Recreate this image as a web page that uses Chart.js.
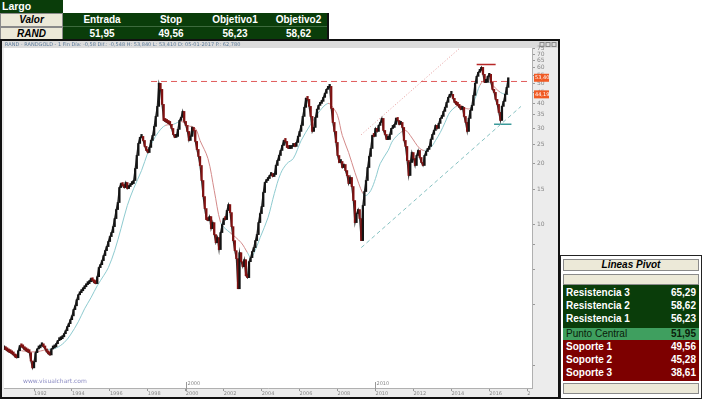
<!DOCTYPE html>
<html>
<head>
<meta charset="utf-8">
<script src="https://cdn.jsdelivr.net/npm/chart.js@4.4.0/dist/chart.umd.min.js"></script>
<style>
  body { margin: 0; width: 702px; height: 399px; position: relative; overflow: hidden; background: #fff;
         font-family: Arial, "Liberation Sans", sans-serif; }
  .c { position: absolute; box-sizing: border-box; font-weight: bold; font-size: 10px; text-align: center; white-space: nowrap; }
  .green { background: #0a3d0a; color: #fff; }
  .beige { background: #ece9d8; color: #000; font-style: italic; border: 1px solid #8a8a8a; }
  #frame { position: absolute; left: 0; top: 39px; width: 560px; height: 360px; box-sizing: border-box; border: 2px solid #111; }
  #chartBox { position: absolute; left: 0; top: 0; width: 556px; height: 356px; }
  #pivot { position: absolute; left: 560px; top: 255px; width: 142px; height: 144px; box-sizing: border-box; border: 1px solid #222; background: #fff; }
  #pivot .row { position: absolute; left: 2px; right: 2px; box-sizing: border-box; font-weight: bold; font-size: 10px; }
  #pivot .row span { position: absolute; left: 3px; }
  #pivot .row b { position: absolute; right: 3px; }
</style>
</head>
<body>

<div class="c green" style="left:0;top:0;width:63px;height:13px;line-height:13px;text-align:left;padding-left:2px;font-size:10.5px">Largo</div>
<div class="c beige" style="left:0;top:13px;width:63px;height:14px;line-height:12px">Valor</div>
<div class="c beige" style="left:0;top:27px;width:63px;height:13px;line-height:11px">RAND</div>
<div class="c green" style="left:63px;top:13px;width:266px;height:27px;border-right:2px solid #111"></div>
<div style="position:absolute;left:63px;top:26px;width:264px;height:1px;background:#3d6a3d"></div>
<div class="c green" style="left:64px;top:13px;width:76px;height:13px;line-height:13px;background:none">Entrada</div>
<div class="c green" style="left:140px;top:13px;width:62px;height:13px;line-height:13px;background:none">Stop</div>
<div class="c green" style="left:202px;top:13px;width:66px;height:13px;line-height:13px;background:none">Objetivo1</div>
<div class="c green" style="left:268px;top:13px;width:61px;height:13px;line-height:13px;background:none">Objetivo2</div>
<div class="c green" style="left:64px;top:27px;width:76px;height:13px;line-height:13px;background:none">51,95</div>
<div class="c green" style="left:140px;top:27px;width:62px;height:13px;line-height:13px;background:none">49,56</div>
<div class="c green" style="left:202px;top:27px;width:66px;height:13px;line-height:13px;background:none">56,23</div>
<div class="c green" style="left:268px;top:27px;width:61px;height:13px;line-height:13px;background:none">58,62</div>

<div id="frame"><div id="chartBox"><canvas id="chart"></canvas></div></div>

<div id="pivot">
  <div class="row beige" style="top:3px;height:12px;line-height:10px;text-align:center">Lineas Pivot</div>
  <div class="row beige" style="top:18px;height:11px"></div>
  <div class="row" style="top:29px;height:43px;background:#0a3d0a"></div>
  <div class="row" style="top:30px;height:14px;line-height:14px;color:#fff"><span>Resistencia 3</span><b>65,29</b></div>
  <div class="row" style="top:43px;height:14px;line-height:14px;color:#fff"><span>Resistencia 2</span><b>58,62</b></div>
  <div class="row" style="top:56px;height:14px;line-height:14px;color:#fff"><span>Resistencia 1</span><b>56,23</b></div>
  <div class="row" style="top:72px;height:12px;line-height:12px;background:#3f9f5f;color:#0a200a;font-weight:normal"><span>Punto Central</span><b>51,95</b></div>
  <div class="row" style="top:84px;height:41px;background:#7d0000"></div>
  <div class="row" style="top:84px;height:14px;line-height:14px;color:#fff"><span>Soporte 1</span><b>49,56</b></div>
  <div class="row" style="top:97px;height:14px;line-height:14px;color:#fff"><span>Soporte 2</span><b>45,28</b></div>
  <div class="row" style="top:110px;height:14px;line-height:14px;color:#fff"><span>Soporte 3</span><b>38,61</b></div>
  <div class="row beige" style="top:127px;height:11px"></div>
</div>

<script>
// monthly closes, June 1990 .. January 2017
const closes = [
  2.42,2.40,2.37,2.34,2.32,2.29,2.26,2.21,2.19,2.37,
  2.51,2.48,2.45,2.40,2.37,2.34,2.32,2.11,1.95,2.09,
  2.32,2.42,2.45,2.51,2.51,2.48,2.42,2.34,2.29,2.26,
  2.42,2.45,2.48,2.57,2.66,2.69,2.72,2.78,2.88,2.98,
  3.12,3.23,3.38,3.53,3.79,3.96,4.24,4.49,4.60,4.70,
  4.81,4.92,5.04,5.10,5.21,5.40,5.27,5.15,5.10,5.52,
  6.12,6.33,6.63,7.02,7.43,7.78,8.24,8.72,9.13,9.77,
  10.71,11.87,12.86,15.26,15.97,15.61,15.26,16.16,15.09,15.44,
  15.79,15.97,16.54,18.96,22.00,25.24,27.04,27.35,26.12,24.40,
  23.30,22.76,24.12,26.12,27.65,30.65,34.36,38.53,50.11,46.78,
  39.42,32.82,32.45,32.08,31.72,31.36,29.96,27.97,27.04,27.35,
  29.62,32.82,33.97,36.38,32.45,31.00,28.95,26.12,27.35,30.30,
  29.28,25.83,23.57,21.76,19.63,16.54,13.77,12.01,10.59,10.47,
  10.96,9.55,10.23,8.92,8.14,8.62,7.52,9.13,10.00,10.71,
  10.59,11.74,12.57,11.47,9.77,8.33,7.43,6.78,4.81,7.26,
  6.55,6.19,6.70,5.58,5.46,6.55,6.86,7.35,7.69,8.33,
  8.92,10.23,11.34,12.28,14.42,16.16,16.54,16.92,17.51,17.92,
  17.31,17.71,19.63,20.78,22.00,23.30,24.68,26.12,25.83,24.12,
  23.84,23.84,24.40,24.68,24.40,25.53,27.35,28.95,31.00,34.36,
  38.09,42.21,41.73,38.53,34.36,28.95,30.30,33.97,37.23,38.96,
  39.87,40.80,42.69,44.70,46.78,47.86,48.41,37.66,32.08,28.95,
  25.53,22.00,20.31,20.55,19.18,19.85,18.53,17.51,15.97,17.12,
  15.44,13.16,10.23,11.34,11.87,10.71,8.33,12.43,14.58,16.54,
  19.18,21.76,23.84,27.65,27.35,29.96,28.95,31.00,32.08,33.58,
  29.28,27.97,26.42,26.42,27.97,29.96,30.30,31.36,33.58,32.82,
  31.36,32.08,30.30,26.12,24.40,20.78,17.51,20.31,22.76,21.26,
  19.63,22.00,23.30,21.51,20.31,19.63,22.00,23.03,23.57,24.40,
  26.42,27.97,29.28,31.00,29.96,31.72,33.58,34.36,36.38,38.09,
  40.33,42.69,44.19,44.19,42.21,40.33,39.42,38.96,38.09,37.23,
  38.09,34.36,32.08,28.95,33.58,36.80,38.96,43.68,50.11,54.27,
  56.81,58.13,60.15,55.54,50.69,50.69,54.27,55.54,50.69,46.78,
  45.21,41.73,39.42,35.97,32.82,38.53,40.80,44.19,47.86,53.40
];

// moving average, read at some months (index from June 1990)
const maMonths = [11,19,27,33,38,42,47,51,55,59,63,66,70,74,78,82,87,91,94,98,
  102,107,112,116,121,124,129,133,137,140,143,150,154,156,158,162,167,171,175,179,
  183,188,194,200,205,208,211,214,218,222,227,229,232,235,238,243,246,251,254,257,
  260,263,266,270,273,276,279,282,286,289,292,295,298,301,304,308,311,314,317,319];
const maValues = [2.37,2.34,2.40,2.45,2.60,2.84,3.30,3.83,4.34,4.98,5.58,6.12,7.43,9.55,12.43,15.09,18.53,22.76,25.83,28.95,
  31.00,31.36,32.45,31.00,29.96,26.12,21.26,14.75,10.23,9.55,9.13,8.14,7.26,6.86,7.18,8.62,10.83,14.25,17.92,20.08,
  21.26,26.12,31.36,36.80,39.87,38.09,34.73,27.65,22.76,18.12,14.25,13.93,14.75,16.92,20.08,23.30,26.12,28.62,29.28,27.65,
  25.53,23.84,23.30,24.12,26.12,28.62,32.08,35.97,38.53,38.96,37.66,37.66,42.21,48.97,51.84,50.11,47.33,45.21,44.19,44.19];

// drawn lines: [start month, end month] and [start value, end value]
const peakLineMonths = [93, 331],  peakLineValues = [51.2, 51.2];
const chanTopMonths  = [226, 288], chanTopValues  = [27.9, 74.5];
const chanLowMonths  = [226, 327], chanLowValues  = [7.69, 38.5];
const highMarkMonths = [299, 311], highMarkValues = [62.2, 62.2];
const lowMarkMonths  = [310, 321], lowMarkValues  = [31.4, 31.4];

const yLabelTicks = [5,10,15,20,25,30,35,40,45,50,55,60,65,70,75];
const yMinorTicks = [2,3,4,6,7,8,9,12.5,17.5,22.5,27.5,32.5,37.5,42.5,47.5,52.5,57.5,62.5,67.5,72.5];

const labels = [];
for (let y = 1990, m = 6; y < 2018 || m <= 4; ) {
  labels.push(y + '-' + String(m).padStart(2, '0'));
  m++; if (m > 12) { m = 1; y++; }
}

const UP = '#141414', DOWN = '#801212';
const MA_RED = '#d48a8a', MA_BLUE = '#8ecbd0';

const line = (months, values, color, dash, width) => ({
  type: 'line',
  data: months.map((m, i) => ({x: labels[m], y: values[i]})),
  borderColor: color, borderWidth: width || 1, borderDash: dash || [],
  pointRadius: 0, order: 3
});

const extras = {
  id: 'extras',
  beforeDraw(chart) {
    const {ctx, chartArea: a, width, height} = chart;
    ctx.save();
    ctx.fillStyle = '#ececec';
    ctx.fillRect(0, 0, width, height);
    ctx.fillStyle = '#fff';
    ctx.fillRect(a.left, a.top, a.right - a.left, a.bottom - a.top);
    ctx.fillStyle = '#dcdcdc';
    ctx.fillRect(0, 0, width, 7);
    ctx.font = '5px "DejaVu Sans"';
    ctx.fillStyle = '#5a7a9a';
    ctx.textBaseline = 'middle';
    ctx.fillText('RAND - RANDGOLD - 1 Fin Día: -0,58 Dif.: -0,548 H: 53,840 L: 53,410 D: 05-01-2017 P.: 62,780', 3, 4);
    ctx.strokeStyle = '#888';
    [538, 544, 550].forEach(x => ctx.strokeRect(x, 1.5, 4, 4));
    ctx.restore();
  },
  afterDraw(chart) {
    const {ctx, chartArea: a, scales: {x, y}} = chart;
    ctx.save();
    // decade markers
    ctx.font = '5px "DejaVu Sans"';
    ctx.fillStyle = '#888';
    ctx.strokeStyle = '#999';
    ctx.textBaseline = 'middle';
    ['2000', '2010'].forEach(yr => {
      const px = Math.round(x.getPixelForValue(labels.indexOf(yr + '-01'))) + 0.5;
      ctx.beginPath(); ctx.moveTo(px, a.bottom - 6); ctx.lineTo(px, a.bottom + 3); ctx.stroke();
      ctx.fillText(yr, px + 1, a.bottom - 4);
    });
    ctx.font = '6px "DejaVu Sans"';
    ctx.fillStyle = '#8c8cc4';
    ctx.fillText('www.visualchart.com', 21, a.bottom - 7);
    // last value tags
    const tags = [closes[closes.length - 1], maValues[maValues.length - 1]];
    tags.forEach(v => {
      const py = y.getPixelForValue(v);
      ctx.fillStyle = '#f05a24';
      ctx.fillRect(a.right + 2, py - 4, 15, 8);
      ctx.fillStyle = '#fff';
      ctx.font = '5px "DejaVu Sans"';
      ctx.fillText(v.toFixed(2).replace('.', ','), a.right + 3, py);
    });
    ctx.restore();
  }
};

new Chart(document.getElementById('chart'), {
  type: 'bar',
  data: {
    labels: labels,
    datasets: [
      {
        data: closes.map((c, i) => [i ? closes[i - 1] : c, c]),
        backgroundColor: closes.map((c, i) => (i && c < closes[i - 1]) ? DOWN : UP),
        barThickness: 1.6, minBarLength: 3, order: 1
      },
      {
        type: 'line',
        data: closes,
        borderColor: '#2a2a2a', borderWidth: 1.3, pointRadius: 0, order: 1.5
      },
      {
        type: 'line',
        data: maMonths.map((m, i) => ({x: labels[m], y: maValues[i]})),
        borderWidth: 1, pointRadius: 0, tension: 0.35, order: 2,
        segment: {
          borderColor: ctx => closes[ctx.p1.parsed.x] < ctx.p1.parsed.y ? MA_RED : MA_BLUE
        }
      },
      line(peakLineMonths, peakLineValues, '#e05a5a', [6, 4]),
      line(chanTopMonths, chanTopValues, '#e49a9a', [1, 2]),
      line(chanLowMonths, chanLowValues, '#86c2c2', [4, 3]),
      line(highMarkMonths, highMarkValues, '#b82828', [], 1.5),
      line(lowMarkMonths, lowMarkValues, '#3a9a9a', [], 1.5)
    ]
  },
  options: {
    responsive: true,
    maintainAspectRatio: false,
    animation: false,
    layout: {padding: {left: 2, top: 7, right: 0, bottom: 0}},
    plugins: {legend: {display: false}, tooltip: {enabled: false}},
    scales: {
      x: {
        type: 'category',
        offset: false,
        grid: {
          offset: false, drawOnChartArea: false, tickLength: 3,
          color: ctx => (ctx.tick && ctx.tick.label) ? '#999' : 'rgba(0,0,0,0)'
        },
        border: {color: '#b0b0b0'},
        ticks: {
          autoSkip: false, maxRotation: 0, minRotation: 0, align: 'start', padding: 0,
          color: '#888', font: {size: 5, family: 'DejaVu Sans'},
          callback: (v, i) => {
            const [yr, mo] = labels[i].split('-');
            if (mo !== '01' || yr % 2) return '';
            return yr === '2018' ? '2' : yr;
          }
        },
        afterFit: s => { s.height = 9; }
      },
      y: {
        type: 'logarithmic',
        position: 'right',
        min: 1.55, max: 75,
        grid: {drawOnChartArea: false, tickLength: 3, color: '#999'},
        border: {color: '#b0b0b0'},
        afterBuildTicks: s => {
          s.ticks = yMinorTicks.concat(yLabelTicks).sort((a, b) => a - b).map(v => ({value: v}));
        },
        ticks: {
          padding: 2, color: '#888', font: {size: 6, family: 'DejaVu Sans'},
          callback: v => yLabelTicks.includes(v) ? String(v) : ''
        },
        afterFit: s => { s.width = 26; }
      }
    }
  },
  plugins: [extras]
});
</script>
</body>
</html>
